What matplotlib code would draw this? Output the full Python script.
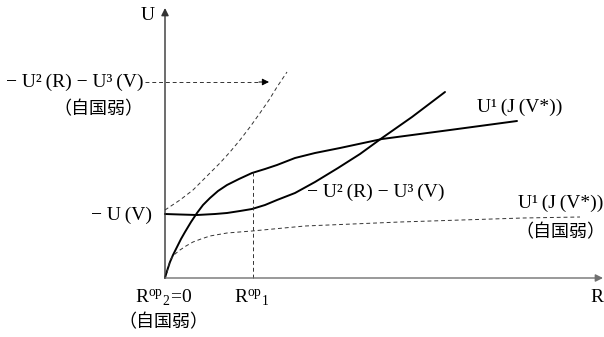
import matplotlib.pyplot as plt
import numpy as np

plt.rcParams['font.family'] = ['Liberation Serif', 'Noto Sans CJK JP']
plt.rcParams['mathtext.fontset'] = 'custom'
plt.rcParams['mathtext.rm'] = 'Liberation Serif'
plt.rcParams['mathtext.it'] = 'Liberation Serif:italic'

# U1(J(V*)) solid, concave
u1_r = [0, 2, 5, 8, 12, 16, 20, 26, 32, 38, 45, 53, 62, 74, 87, 100, 112, 130, 150, 175, 217, 285, 352]
u1_u = [0, 7, 16, 23, 31, 39, 46, 56, 65, 73, 80, 87, 93, 99, 105, 109, 113, 120, 125, 130, 139, 148, 157]

# -U2(R)-U3(V) solid, convex
c_r = [0, 15, 32, 50, 62, 75, 87, 100, 112, 130, 150, 173, 195, 217, 247, 280]
c_u = [64, 63.5, 63, 64, 65, 67, 69, 73, 78, 85, 96, 110, 124, 140, 161, 186]

# -U2(R)-U3(V) (自国弱) dashed
cw_r = [0, 15, 28, 35, 45, 55, 65, 75, 85, 95, 104, 112, 122]
cw_u = [68, 78, 88, 95, 105, 115, 126, 138, 151, 165, 178, 191, 206]

# U1(J(V*)) (自国弱) dashed
uw_r = [2, 5, 10, 15, 21, 28, 36, 45, 62, 87, 140, 235, 358, 415]
uw_u = [5, 18, 24, 28, 32, 36, 39, 42, 45, 47, 52, 56, 60, 61]

r_op1 = 88
u_at_rop1 = 106

fig = plt.figure(figsize=(6.04, 3.37), dpi=100)
ax = fig.add_axes([0, 0, 1, 1])
ax.set_xlim(-165, 439)
ax.set_ylim(-59, 278)
ax.axis('off')

# axes
ax.annotate('', xy=(0, 270), xytext=(0, 0),
            arrowprops=dict(arrowstyle='-|>', lw=1.0, color='#333333', mutation_scale=11, shrinkA=0, shrinkB=0))
ax.annotate('', xy=(438, 0), xytext=(0, 0),
            arrowprops=dict(arrowstyle='-|>', lw=1.0, color='#707070', mutation_scale=11, shrinkA=0, shrinkB=0))

dash = (0, (4, 3))
ax.plot(u1_r, u1_u, color='black', lw=1.4, solid_capstyle='round', solid_joinstyle='round')
ax.plot(c_r, c_u, color='black', lw=1.4, solid_capstyle='round', solid_joinstyle='round')
ax.plot(cw_r, cw_u, color='#333333', lw=0.7, linestyle=dash)
ax.plot(uw_r, uw_u, color='#333333', lw=0.7, linestyle=dash)
ax.plot([r_op1, r_op1], [0, u_at_rop1], color='#333333', lw=0.7, linestyle=dash)

# horizontal dashed arrow
ax.plot([-20, 95], [196, 196], color='#333333', lw=0.7, linestyle=dash)
ax.annotate('', xy=(104, 196), xytext=(94, 196),
            arrowprops=dict(arrowstyle='-|>', lw=0.7, color='black', mutation_scale=10, shrinkA=0, shrinkB=0))

fs = 14
ts = '\u2009'
ax.text(-10, 263, 'U', fontsize=fs, ha='right', va='center')
ax.text(-22, 196, f'− U²{ts}(R) − U³{ts}(V)', fontsize=fs, ha='right', va='center')
ax.text(-22, 168, '（自国弱）', fontsize=fs - 1, ha='right', va='center')
ax.text(312, 171, f'U¹{ts}(J{ts}(V*))', fontsize=fs, ha='left', va='center')
ax.text(142, 86, f'− U²{ts}(R) − U³{ts}(V)', fontsize=fs, ha='left', va='center')
ax.text(353, 75, f'U¹{ts}(J{ts}(V*))', fontsize=fs, ha='left', va='center')
ax.text(350, 45, '（自国弱）', fontsize=fs - 1, ha='left', va='center')
ax.text(-13, 63, f'− U{ts}(V)', fontsize=fs, ha='right', va='center')
ax.text(-1, -20, r'$\mathrm{R}^{\mathrm{op}}{}_{2}\!=\!0$', fontsize=fs, ha='center', va='center')
ax.text(87, -20, r'$\mathrm{R}^{\mathrm{op}}{}_{1}$', fontsize=fs, ha='center', va='center')
ax.text(-2, -45, '（自国弱）', fontsize=fs - 1, ha='center', va='center')
ax.text(432, -20, 'R', fontsize=fs, ha='center', va='center')

fig.savefig('out.png', dpi=100)
